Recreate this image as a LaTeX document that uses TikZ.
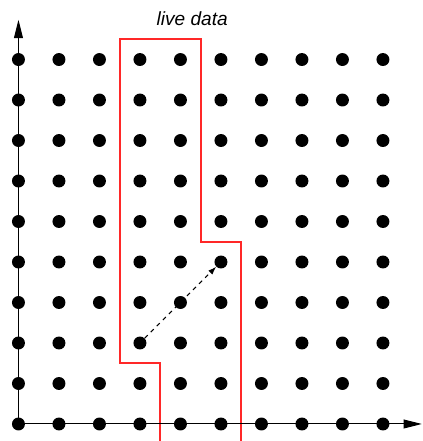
\documentclass[tikz,border=0pt]{standalone}
\usepackage{fontspec}
\setmainfont{Liberation Sans}
\usetikzlibrary{arrows.meta}
\definecolor{livered}{RGB}{255,40,40}
\begin{document}
\begin{tikzpicture}[
    dot/.style={circle,fill=black,inner sep=0pt,minimum size=0.32cm},
    axis/.style={line width=0.7pt,-{Triangle[length=0.45cm,width=0.22cm]}},
    live/.style={draw=livered,line width=1.3pt},
    ptr/.style={dashed,line width=0.7pt,-{Latex[length=0.2cm,width=0.14cm]}}
  ]
        \useasboundingbox (-0.456,-0.42) rectangle (9.988,10.47);

        % live region
        \coordinate (r1) at (3.5,-0.42);
        \coordinate (r2) at (3.5,1.5);
        \coordinate (r3) at (2.5,1.5);
        \coordinate (r4) at (2.5,9.5);
        \coordinate (r5) at (4.5,9.5);
        \coordinate (r6) at (4.5,4.5);
        \coordinate (r7) at (5.5,4.5);
        \coordinate (r8) at (5.5,-0.42);
        \draw[live] (r1) -- (r2) -- (r3) -- (r4) -- (r5) -- (r6) -- (r7) -- (r8);

        % heap grid
        \foreach \i in {0,...,9} {
            \foreach \j in {0,...,9} {
                \node[dot] (d-\i-\j) at (\i,\j) {};
            }
        }

        \coordinate (xend) at (9.96,0);
        \coordinate (yend) at (0,9.98);
        \draw[axis] (d-0-0.center) -- (xend);
        \draw[axis] (d-0-0.center) -- (yend);

        \node[font=\itshape\fontsize{13.4}{16}\selectfont] (label) at (4.29,10.0) {live data};

        \draw[ptr] (d-3-2) -- (d-5-4);
\end{tikzpicture}
\end{document}
